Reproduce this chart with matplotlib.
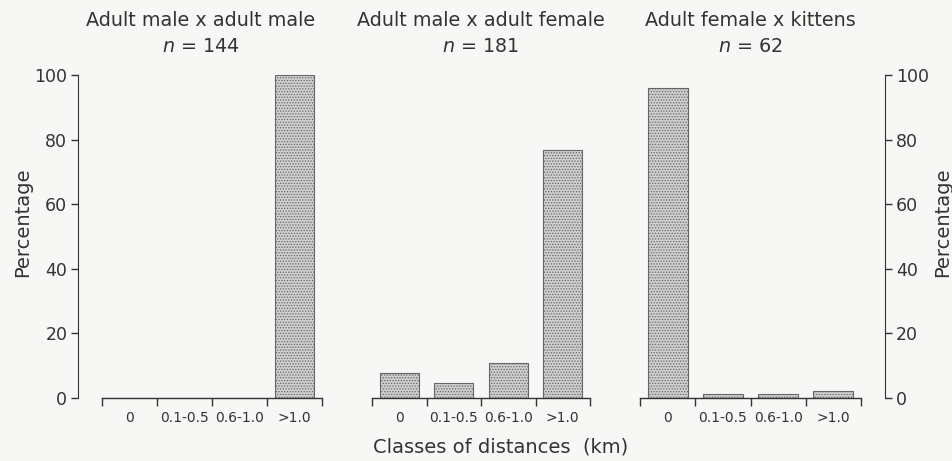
import matplotlib
matplotlib.use("Agg")
import matplotlib.pyplot as plt
import numpy as np

plt.rcParams['font.family'] = ['DejaVu Sans']
plt.rcParams['hatch.color'] = '#999999'
plt.rcParams['hatch.linewidth'] = 0.6

classes = ["0", "0.1-0.5", "0.6-1.0", ">1.0"]
titles = ["Adult male x adult male", "Adult male x adult female", "Adult female x kittens"]
ns = [144, 181, 62]
male_male = [0, 0, 0, 100]
male_female = [7.7, 4.6, 10.9, 76.8]
female_kittens = [96.0, 1.2, 1.2, 2.1]
series = [male_male, male_female, female_kittens]
yticks = [0, 20, 40, 60, 80, 100]

W, H = 952, 461
BG = '#f7f7f5'
TXT = '#333333'
fig = plt.figure(figsize=(W / 100, H / 100), dpi=100, facecolor=BG)

panels_px = [(102, 322), (372, 590), (640, 861)]
title_cx = [201, 481, 750]
ytop, ybot = 75, 398

for i, ((x0, x1), vals) in enumerate(zip(panels_px, series)):
    ax = fig.add_axes([x0 / W, (H - ybot) / H, (x1 - x0) / W, (ybot - ytop) / H])
    ax.set_facecolor('none')
    x = np.arange(len(classes))
    ax.bar(x, vals, width=0.72, facecolor='#cfcfcf', edgecolor='#666666',
           linewidth=0.8, hatch='......')
    ax.set_xlim(-0.5, 3.5)
    ax.set_ylim(0, 100)
    for s in ['top', 'right', 'left']:
        ax.spines[s].set_visible(False)
    ax.spines['bottom'].set_color(TXT)
    ax.spines['bottom'].set_linewidth(1.0)
    ax.set_xticks([-0.5, 0.5, 1.5, 2.5, 3.5])
    ax.set_xticklabels([])
    ax.tick_params(axis='x', which='major', length=6, width=1.0, color=TXT, direction='out')
    ax.set_xticks(x, minor=True)
    ax.set_xticklabels(classes, minor=True, fontsize=10, color=TXT)
    ax.tick_params(axis='x', which='minor', length=0, pad=9)
    if i == 0:
        ax.spines['left'].set_visible(True)
        ax.spines['left'].set_position(('outward', 17))
        ax.spines['left'].set_color(TXT)
        ax.set_yticks(yticks)
        ax.tick_params(axis='y', length=5, width=1.0, color=TXT, labelsize=12.5, labelcolor=TXT, pad=3)
    elif i == 2:
        ax.spines['right'].set_visible(True)
        ax.spines['right'].set_position(('outward', 17))
        ax.spines['right'].set_color(TXT)
        ax.yaxis.set_ticks_position('right')
        ax.set_yticks(yticks)
        ax.tick_params(axis='y', length=5, width=1.0, color=TXT, labelsize=12.5, labelcolor=TXT, pad=3)
    else:
        ax.set_yticks([])
    cx = title_cx[i] / W
    fig.text(cx, 1 - 20 / H, titles[i], ha='center', va='center', fontsize=13.8, color=TXT)
    fig.text(cx, 1 - 47 / H, r"$\it{n}$" + f" = {ns[i]}", ha='center', va='center',
             fontsize=13.8, color=TXT)

fig.text(23 / W, 1 - 222 / H, "Percentage", rotation=90, ha='center', va='center',
         fontsize=14, color=TXT)
fig.text(943 / W, 1 - 222 / H, "Percentage", rotation=90, ha='center', va='center',
         fontsize=14, color=TXT)
fig.text(501 / W, 1 - 447 / H, "Classes of distances  (km)", ha='center', va='center',
         fontsize=14, color=TXT)

fig.savefig("out.png", dpi=100, facecolor=BG)
